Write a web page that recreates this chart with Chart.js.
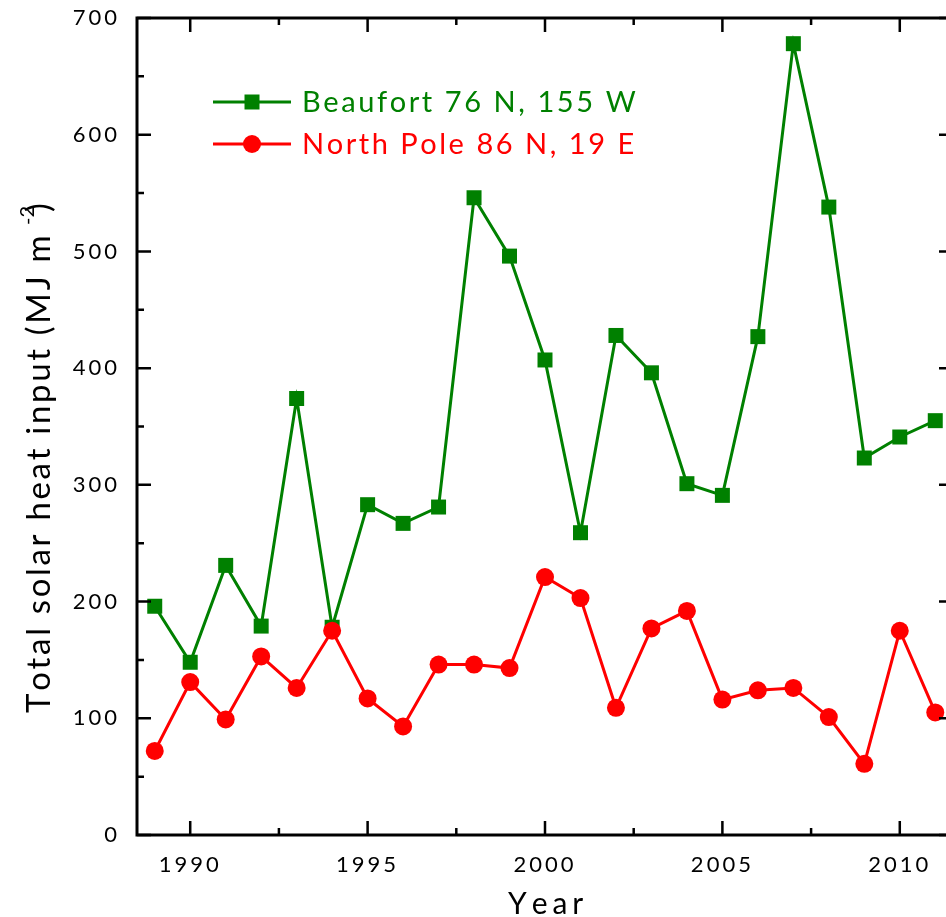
<!DOCTYPE html>
<html>
<head>
<meta charset="utf-8">
<title>Total solar heat input</title>
<script src="https://cdn.jsdelivr.net/npm/chart.js@4.4.1/dist/chart.umd.min.js"></script>
<style>
  html, body { margin: 0; padding: 0; background: #fff; overflow: hidden; }
  #wrap { width: 946px; height: 917px; overflow: hidden; }
</style>
</head>
<body>
<div id="wrap"><canvas id="chart" width="964" height="917"></canvas></div>
<script>
// data
const years = [1989, 1990, 1991, 1992, 1993, 1994, 1995, 1996, 1997, 1998, 1999, 2000,
               2001, 2002, 2003, 2004, 2005, 2006, 2007, 2008, 2009, 2010, 2011];
const beaufort = [196, 148, 231, 179, 374, 178, 283, 267, 281, 546, 496, 407,
                  259, 428, 396, 301, 291, 427, 678, 538, 323, 341, 355];
const northPole = [72, 131, 99, 153, 126, 175, 117, 93, 146, 146, 143, 221,
                   203, 109, 177, 192, 116, 124, 126, 101, 61, 175, 105];

const seriesNames = ['Beaufort 76 N, 155 W', 'North Pole 86 N, 19 E'];
const xMajor = [1990, 1995, 2000, 2005, 2010];
const xMinor = [1992.5, 1997.5, 2002.5, 2007.5];
const yMajor = [0, 100, 200, 300, 400, 500, 600, 700];
const yMinor = [50, 150, 250, 350, 450, 550, 650];

const GREEN = '#008000';
const RED = '#ff0000';
const FONT = 'Lato, "Open Sans", sans-serif';

// draws text with extra letter spacing so it fills a given width
function spacedText(ctx, text, x, y, width) {
    const natural = ctx.measureText(text).width;
    const sp = text.length > 1 ? (width - natural) / (text.length - 1) : 0;
    let cx = x;
    for (const ch of text) {
        ctx.fillText(ch, cx, y);
        cx += ctx.measureText(ch).width + sp;
    }
    return cx - sp;
}

// box, inward ticks (major + minor), legend and axis titles
const framePlugin = {
    id: 'frame',
    beforeDraw(chart) {
        chart.ctx.letterSpacing = '3px';
    },
    afterDraw(chart) {
        const ctx = chart.ctx;
        ctx.letterSpacing = '0px';
        const { left, right, top, bottom } = chart.chartArea;
        const xs = chart.scales.x, ys = chart.scales.y;
        ctx.save();
        ctx.strokeStyle = '#000';
        ctx.lineWidth = 2.5;
        ctx.beginPath();
        const tick = (vals, len, horiz) => vals.forEach(v => {
            if (horiz) {
                const px = xs.getPixelForValue(v);
                ctx.moveTo(px, bottom); ctx.lineTo(px, bottom - len);
                ctx.moveTo(px, top); ctx.lineTo(px, top + len);
            } else {
                const py = ys.getPixelForValue(v);
                ctx.moveTo(left, py); ctx.lineTo(left + len, py);
                ctx.moveTo(right, py); ctx.lineTo(right - len, py);
            }
        });
        tick(xMajor, 14, true);
        tick(xMinor, 7, true);
        tick(yMajor, 14, false);
        tick(yMinor, 7, false);
        ctx.stroke();
        ctx.lineWidth = 3;
        ctx.strokeRect(left, top, right - left, bottom - top);

        // legend
        const rows = [
            { name: seriesNames[0], color: GREEN, y: 102, style: 'rect', width: 333 },
            { name: seriesNames[1], color: RED, y: 144, style: 'circle', width: 331 }
        ];
        rows.forEach(r => {
            ctx.strokeStyle = r.color;
            ctx.fillStyle = r.color;
            ctx.lineWidth = 3;
            ctx.beginPath();
            ctx.moveTo(213, r.y); ctx.lineTo(291, r.y);
            ctx.stroke();
            ctx.beginPath();
            if (r.style === 'rect') ctx.rect(252 - 7.5, r.y - 7.5, 15, 15);
            else ctx.arc(252, r.y, 9, 0, Math.PI * 2);
            ctx.fill();
            ctx.font = '29px ' + FONT;
            ctx.textAlign = 'left';
            ctx.textBaseline = 'middle';
            spacedText(ctx, r.name, 302, r.y + 1, r.width);
        });

        // axis titles
        ctx.fillStyle = '#000';
        ctx.font = '30px ' + FONT;
        ctx.textBaseline = 'alphabetic';
        spacedText(ctx, 'Year', 508, 914, 72);

        ctx.translate(50, 713);
        ctx.rotate(-Math.PI / 2);
        ctx.font = '33px ' + FONT;
        spacedText(ctx, 'Total solar heat input (MJ m', 0, 0, 473);
        ctx.font = '20px ' + FONT;
        ctx.fillText('-2', 488, -16);
        ctx.font = '33px ' + FONT;
        ctx.fillText(')', 501, 0);
        ctx.restore();
    }
};

const ctx = document.getElementById('chart').getContext('2d');
new Chart(ctx, {
    type: 'line',
    data: {
        datasets: [{
            label: seriesNames[0],
            data: years.map((y, i) => ({ x: y, y: beaufort[i] })),
            borderColor: GREEN,
            backgroundColor: GREEN,
            borderWidth: 3,
            pointStyle: 'rect',
            pointRadius: 10.6,
            pointBorderWidth: 0,
            tension: 0,
            order: 1
        }, {
            label: seriesNames[1],
            data: years.map((y, i) => ({ x: y, y: northPole[i] })),
            borderColor: RED,
            backgroundColor: RED,
            borderWidth: 3,
            pointStyle: 'circle',
            pointRadius: 9,
            pointBorderWidth: 0,
            tension: 0,
            order: 0
        }]
    },
    options: {
        responsive: false,
        animation: false,
        devicePixelRatio: 1,
        // right edge of the frame sits just past the window, as in the cropped original
        layout: { padding: { left: 0, top: 18, right: 11, bottom: 0 } },
        plugins: { legend: { display: false }, tooltip: { enabled: false } },
        scales: {
            x: {
                type: 'linear',
                min: 1988.5,
                max: 2011.5,
                grid: { display: false, drawTicks: false },
                border: { display: false },
                afterBuildTicks: s => { s.ticks = xMajor.map(v => ({ value: v })); },
                afterFit: s => { s.height = 82; s.paddingLeft = 0; s.paddingRight = 0; },
                ticks: {
                    padding: 17,
                    color: '#000',
                    font: { family: FONT, size: 22 },
                    callback: v => String(v)
                }
            },
            y: {
                min: 0,
                max: 700,
                grid: { display: false, drawTicks: false },
                border: { display: false },
                afterBuildTicks: s => { s.ticks = yMajor.map(v => ({ value: v })); },
                afterFit: s => { s.width = 137; s.paddingTop = 0; s.paddingBottom = 0; },
                ticks: {
                    padding: 17,
                    color: '#000',
                    font: { family: FONT, size: 22 }
                }
            }
        }
    },
    plugins: [framePlugin]
});
</script>
</body>
</html>
